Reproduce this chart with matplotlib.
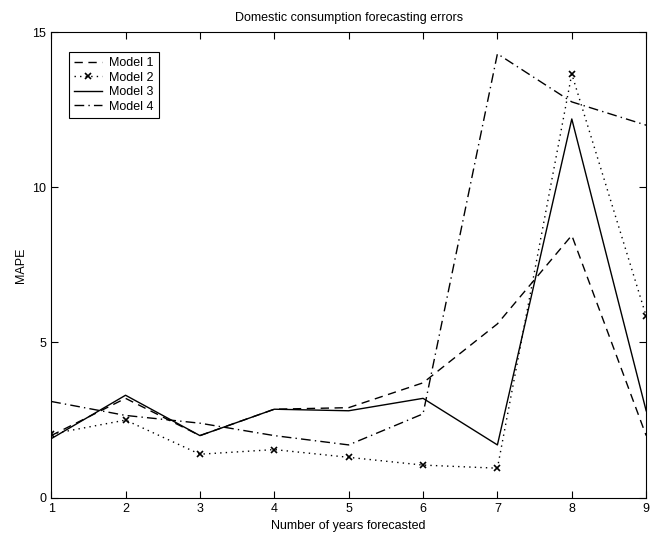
import matplotlib
matplotlib.use("Agg")
import matplotlib.pyplot as plt

plt.rcParams['font.family'] = ['Liberation Sans', 'DejaVu Sans']

years = [1, 2, 3, 4, 5, 6, 7, 8, 9]
model1 = [2.0, 3.2, 2.0, 2.85, 2.9, 3.7, 5.6, 8.45, 2.0]
model2 = [2.05, 2.5, 1.4, 1.55, 1.3, 1.05, 0.95, 13.65, 5.85]
model3 = [1.9, 3.3, 2.0, 2.85, 2.8, 3.2, 1.7, 12.2, 2.8]
model4 = [3.1, 2.65, 2.4, 2.0, 1.7, 2.7, 14.3, 12.75, 12.0]

fig = plt.figure(figsize=(6.56, 5.34), dpi=100)
ax = fig.add_axes([0.078, 0.068, 0.907, 0.872])

ax.plot(years, model1, color='k', lw=1.0, ls=(0, (6, 4)), label='Model 1')
ax.plot(years, model2, color='k', lw=1.0, ls=(0, (1, 3)), marker='x', ms=5, mew=1.2, label='Model 2')
ax.plot(years, model3, color='k', lw=1.0, ls='-', label='Model 3')
ax.plot(years, model4, color='k', lw=1.0, ls=(0, (7, 3, 1, 3)), label='Model 4')

ax.set_xlim(1, 9)
ax.set_ylim(0, 15)
ax.set_xticks(years)
ax.set_yticks([0, 5, 10, 15])
ax.tick_params(direction='in', top=True, right=True, labelsize=9, length=5, width=0.8)
for s in ax.spines.values():
    s.set_linewidth(0.8)

ax.set_title('Domestic consumption forecasting errors', fontsize=9, pad=8)
ax.set_xlabel('Number of years forecasted', fontsize=9, labelpad=4)
ax.set_ylabel('MAPE', fontsize=9)

leg = ax.legend(loc='upper left', bbox_to_anchor=(0.02, 0.97), fontsize=9, fancybox=False,
                edgecolor='k', framealpha=1, handlelength=2.2, borderpad=0.4,
                labelspacing=0.2, handletextpad=0.6)
leg.get_frame().set_linewidth(0.8)

fig.savefig('out.png', dpi=100)
